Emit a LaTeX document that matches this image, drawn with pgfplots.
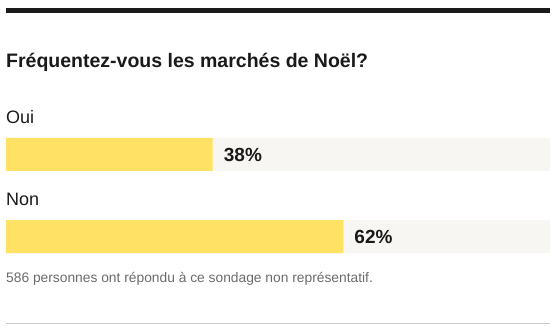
\documentclass[border=0pt]{standalone}
\usepackage{fontspec}
\setmainfont{Liberation Sans}
\usepackage{pgfplots}
\pgfplotsset{compat=1.18}
\definecolor{baryellow}{HTML}{FFE264}
\definecolor{bargray}{HTML}{F7F6F2}
\definecolor{notegray}{HTML}{6B6B6B}
\definecolor{rulegray}{HTML}{CCCCCC}
\definecolor{txt}{HTML}{1A1A1A}
\begin{document}
\begin{tikzpicture}[x=1bp,y=1bp]
\path[use as bounding box] (0,0) rectangle (559,331);
\fill[txt] (6,318) rectangle (550,323);
\node[anchor=base west, inner sep=0, text=txt, font=\fontsize{19.5bp}{22bp}\selectfont\bfseries] at (6,264) {Fréquentez-vous les marchés de Noël?};
\node[anchor=base west, inner sep=0, text=txt, font=\fontsize{18bp}{20bp}\selectfont] at (6,208) {Oui};
\node[anchor=base west, inner sep=0, text=txt, font=\fontsize{18bp}{20bp}\selectfont] at (6,126) {Non};
\begin{axis}[
  at={(6bp,78bp)}, anchor=south west,
  width=544bp, height=115bp, scale only axis,
  hide axis,
  xmin=0, xmax=100, ymin=-0.201, ymax=1.201,
  clip=false,
  /pgf/number format/assume math mode=true,
]
\addplot[xbar, bar shift=0pt, bar width=33bp, fill=bargray, draw=none] coordinates {(100,0) (100,1)};
\addplot[xbar, bar shift=0pt, bar width=33bp, fill=baryellow, draw=none,
  nodes near coords={\pgfmathprintnumber{\pgfplotspointmeta}\%},
  point meta=x,
  every node near coord/.style={anchor=west, inner sep=0pt, xshift=11bp, text=txt, font=\fontsize{19bp}{21bp}\selectfont\bfseries}
] coordinates {(62,0) (38,1)};
\end{axis}
\node[anchor=base west, inner sep=0, text=notegray, font=\fontsize{13.8bp}{16bp}\selectfont] at (6,49) {586 personnes ont répondu à ce sondage non représentatif.};
\draw[rulegray, line width=1bp] (6,8) -- (550,8);
\end{tikzpicture}
\end{document}
